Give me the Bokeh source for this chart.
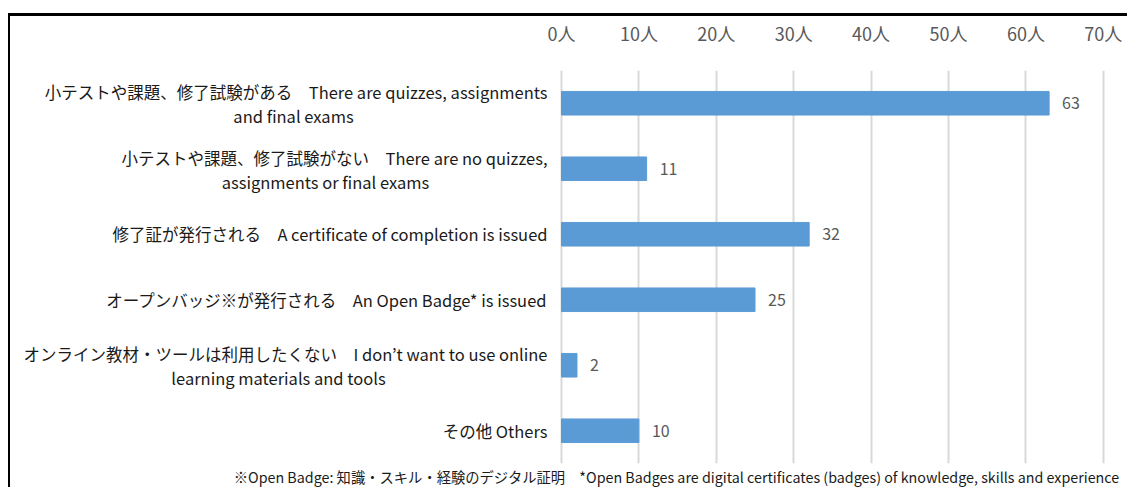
from bokeh.plotting import figure
from bokeh.models import FactorRange, Range1d, FixedTicker, Title, ColumnDataSource
from bokeh.core.properties import value
from bokeh.embed import file_html
from bokeh.resources import INLINE

# ---------------- data ----------------
label_line1 = [
    "小テストや課題、修了試験がある　There are quizzes, assignments",
    "小テストや課題、修了試験がない　There are no quizzes,",
    "修了証が発行される　A certificate of completion is issued",
    "オープンバッジ※が発行される　An Open Badge* is issued",
    "オンライン教材・ツールは利用したくない　I don’t want to use online",
    "その他 Others",
]
label_line2 = [
    "and final exams",
    "assignments or final exams",
    "",
    "",
    "learning materials and tools",
    "",
]
counts = [63, 11, 32, 25, 2, 10]
tick_values = [0, 10, 20, 30, 40, 50, 60, 70]
tick_labels = ["0人", "10人", "20人", "30人", "40人", "50人", "60人", "70人"]
footnote = ("※Open Badge: 知識・スキル・経験のデジタル証明　"
            "*Open Badges are digital certificates (badges) of knowledge, skills and experience")

# ---------------- layout ----------------
FONT = "Noto Sans CJK JP"
W, H = 1119, 474
PX_ZERO = 561 - 10          # canvas x of value 0
PPU = 7.74                  # pixels per unit
x_start = -PX_ZERO / PPU
x_end = x_start + W / PPU
line2_center_offsets = [-268, -236, 0, 0, -283, 0]

factors = [a + "|" + b for a, b in zip(label_line1, label_line2)]

p = figure(
    width=W, height=H,
    y_range=FactorRange(factors=factors[::-1], range_padding=0),
    x_range=Range1d(x_start, x_end),
    x_axis_location="above", y_axis_location=None,
    output_backend="svg", toolbar_location=None,
    min_border_left=0, min_border_right=0,
    min_border_top=52, min_border_bottom=27,
    outline_line_color=None,
    background_fill_color="white", border_fill_color="white",
    styles={"margin-top": "13px", "margin-left": "8px",
            "border-top": "3px solid black",
            "border-left": "2px solid black"},
)

ax = p.xaxis[0]
ax.ticker = FixedTicker(ticks=tick_values)
ax.major_label_overrides = {v: t for v, t in zip(tick_values, tick_labels)}
ax.axis_line_color = None
ax.major_tick_line_color = None
ax.minor_tick_line_color = None
ax.major_label_standoff = 19
ax.major_label_text_font = FONT
ax.major_label_text_font_size = "18px"
ax.major_label_text_color = "#595959"

p.xgrid.grid_line_color = "#D9D9D9"
p.xgrid.grid_line_width = 2
p.ygrid.visible = False

src = ColumnDataSource(dict(y=factors, v=counts, txt=[str(c) for c in counts]))

p.hbar(y="y", right="v", left=0, height=0.36, source=src,
       fill_color="#5B9BD5", line_color="#5B9BD5")

p.text(x="v", y="y", text="txt", source=src, x_offset=13,
       text_align="left", text_baseline="middle",
       text_font=value(FONT), text_font_size="16px", text_color="#595959")

LABEL_SIZE = "16.5px"
LABEL_COLOR = "#1a1a1a"
one = [i for i, s in enumerate(label_line2) if not s]
two = [i for i, s in enumerate(label_line2) if s]
p.text(x=[0] * len(one), y=[factors[i] for i in one], text=[label_line1[i] for i in one],
       x_offset=-14, text_align="right", text_baseline="middle",
       text_font=value(FONT), text_font_size=LABEL_SIZE, text_color=LABEL_COLOR)
p.text(x=[0] * len(two), y=[factors[i] for i in two], text=[label_line1[i] for i in two],
       x_offset=-14, y_offset=-11, text_align="right", text_baseline="middle",
       text_font=value(FONT), text_font_size=LABEL_SIZE, text_color=LABEL_COLOR)
p.text(x=[0] * len(two), y=[factors[i] for i in two], text=[label_line2[i] for i in two],
       x_offset=[line2_center_offsets[i] for i in two], y_offset=13,
       text_align="center", text_baseline="middle",
       text_font=value(FONT), text_font_size=LABEL_SIZE, text_color=LABEL_COLOR)

p.add_layout(Title(text=footnote, align="right", text_font=FONT,
                   text_font_size="14.3px", text_font_style="normal",
                   text_color="#1a1a1a", standoff=0, offset=10), "below")

open("out.html", "w").write(file_html(p, INLINE))
